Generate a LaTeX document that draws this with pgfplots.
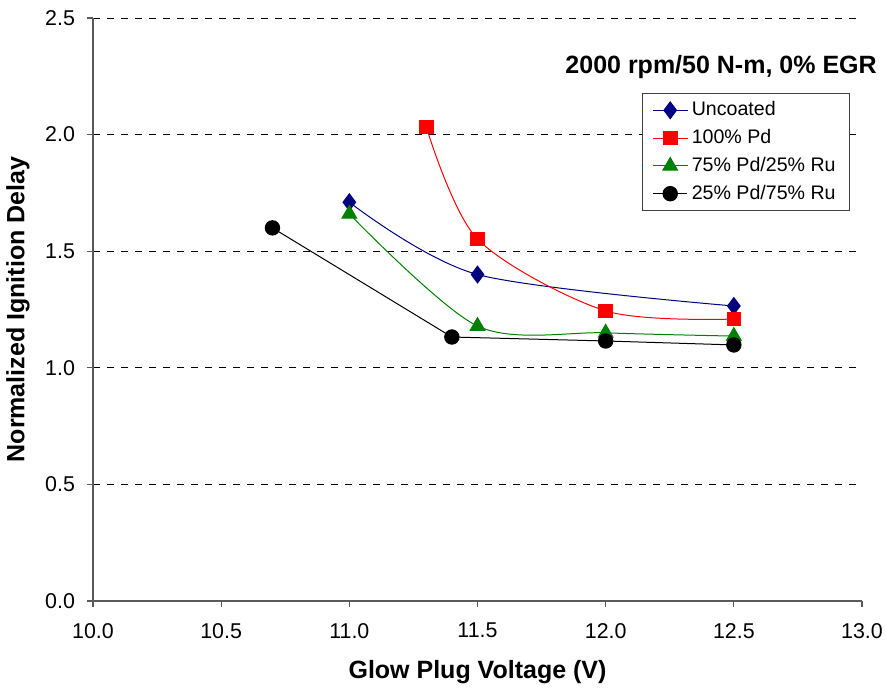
\documentclass[border=0pt]{standalone}
\usepackage{pgfplots}
\pgfplotsset{compat=1.18}
\usepackage{fontspec}
\setmainfont{Liberation Sans}
\definecolor{navyc}{RGB}{0,0,128}
\definecolor{greenc}{RGB}{0,128,0}
\begin{document}
\begin{tikzpicture}
\begin{axis}[
  scale only axis,
  width=384.5pt, height=291.5pt,
  xmin=10, xmax=13, ymin=0, ymax=2.5,
  xtick={10,10.5,...,13}, ytick={0,0.5,...,2.5},
  axis x line*=bottom, axis y line*=left,
  axis line style={black!65, line width=0.6pt},
  tick style={black!65, line width=0.6pt},
  tick align=outside, major tick length=3pt,
  xticklabel style={inner xsep=1pt, /pgf/number format/.cd, fixed, fixed zerofill, precision=1},
  yticklabel style={/pgf/number format/.cd, fixed, fixed zerofill, precision=1},
  /pgf/number format/assume math mode=true,
  ticklabel style={font=\fontsize{10.7pt}{12pt}\selectfont},
  xticklabel shift=4.5pt, yticklabel shift=2.5pt,
  ymajorgrids,
  major grid style={black, dash pattern=on 3.5pt off 3.5pt, line width=0.4pt},
  xlabel={\bfseries Glow Plug Voltage (V)},
  ylabel={\bfseries Normalized Ignition Delay},
  label style={font=\fontsize{12.5pt}{14pt}\selectfont, inner sep=0.5pt},
  xlabel style={at={(axis description cs:0.5,0)}, anchor=center, yshift=-35.5pt},
  ylabel style={at={(axis description cs:0,0.5)}, anchor=center},
  every axis y label/.append style={yshift=37.5pt},
  clip=false,
  legend style={at={(axis cs:12.954,2.178)}, anchor=north east,
    draw=black!75, line width=0.6pt, font=\fontsize{9.8pt}{11pt}\selectfont,
    row sep=1.3pt, inner xsep=5pt, inner ysep=2pt,
    legend cell align=left},
  legend image code/.code={
    \draw[mark repeat=2,mark phase=2] plot coordinates {(0cm,0cm) (0.3cm,0cm) (0.6cm,0cm)};},
]
\addplot[navyc, line width=0.5pt, smooth, tension=0.5, mark=diamond*, mark size=4.2pt,
  mark options={fill=navyc, draw=navyc}]
  coordinates {(11.0,1.71) (11.5,1.40) (12.5,1.265)};
\addlegendentry{Uncoated}
\addplot[red, line width=0.5pt, smooth, tension=0.5, mark=square*, mark size=3.4pt,
  mark options={fill=red, draw=red}]
  coordinates {(11.3,2.033) (11.5,1.552) (12.0,1.244) (12.5,1.209)};
\addlegendentry{100\% Pd}
\addplot[greenc, line width=0.5pt, smooth, tension=0.5, mark=triangle*, mark size=4.2pt,
  mark options={fill=greenc, draw=greenc}]
  coordinates {(11.0,1.66) (11.5,1.179) (12.0,1.15) (12.5,1.136)};
\addlegendentry{75\% Pd/25\% Ru}
\addplot[black, line width=0.5pt, mark=*, mark size=3.6pt,
  mark options={fill=black, draw=black}]
  coordinates {(10.7,1.60) (11.4,1.132) (12.0,1.115) (12.5,1.098)};
\addlegendentry{25\% Pd/75\% Ru}
\node[anchor=east, font=\bfseries\fontsize{12.5pt}{14pt}\selectfont, inner sep=0pt]
  at (axis cs:13.059,2.29) {2000 rpm/50 N-m, 0\% EGR};
\end{axis}
\path (current axis.south west) ++(-46.5pt,-44pt) coordinate (bbl);
\path (current axis.north east) ++(12pt,9pt) coordinate (btr);
\useasboundingbox (bbl) rectangle (btr);
\end{tikzpicture}
\end{document}
